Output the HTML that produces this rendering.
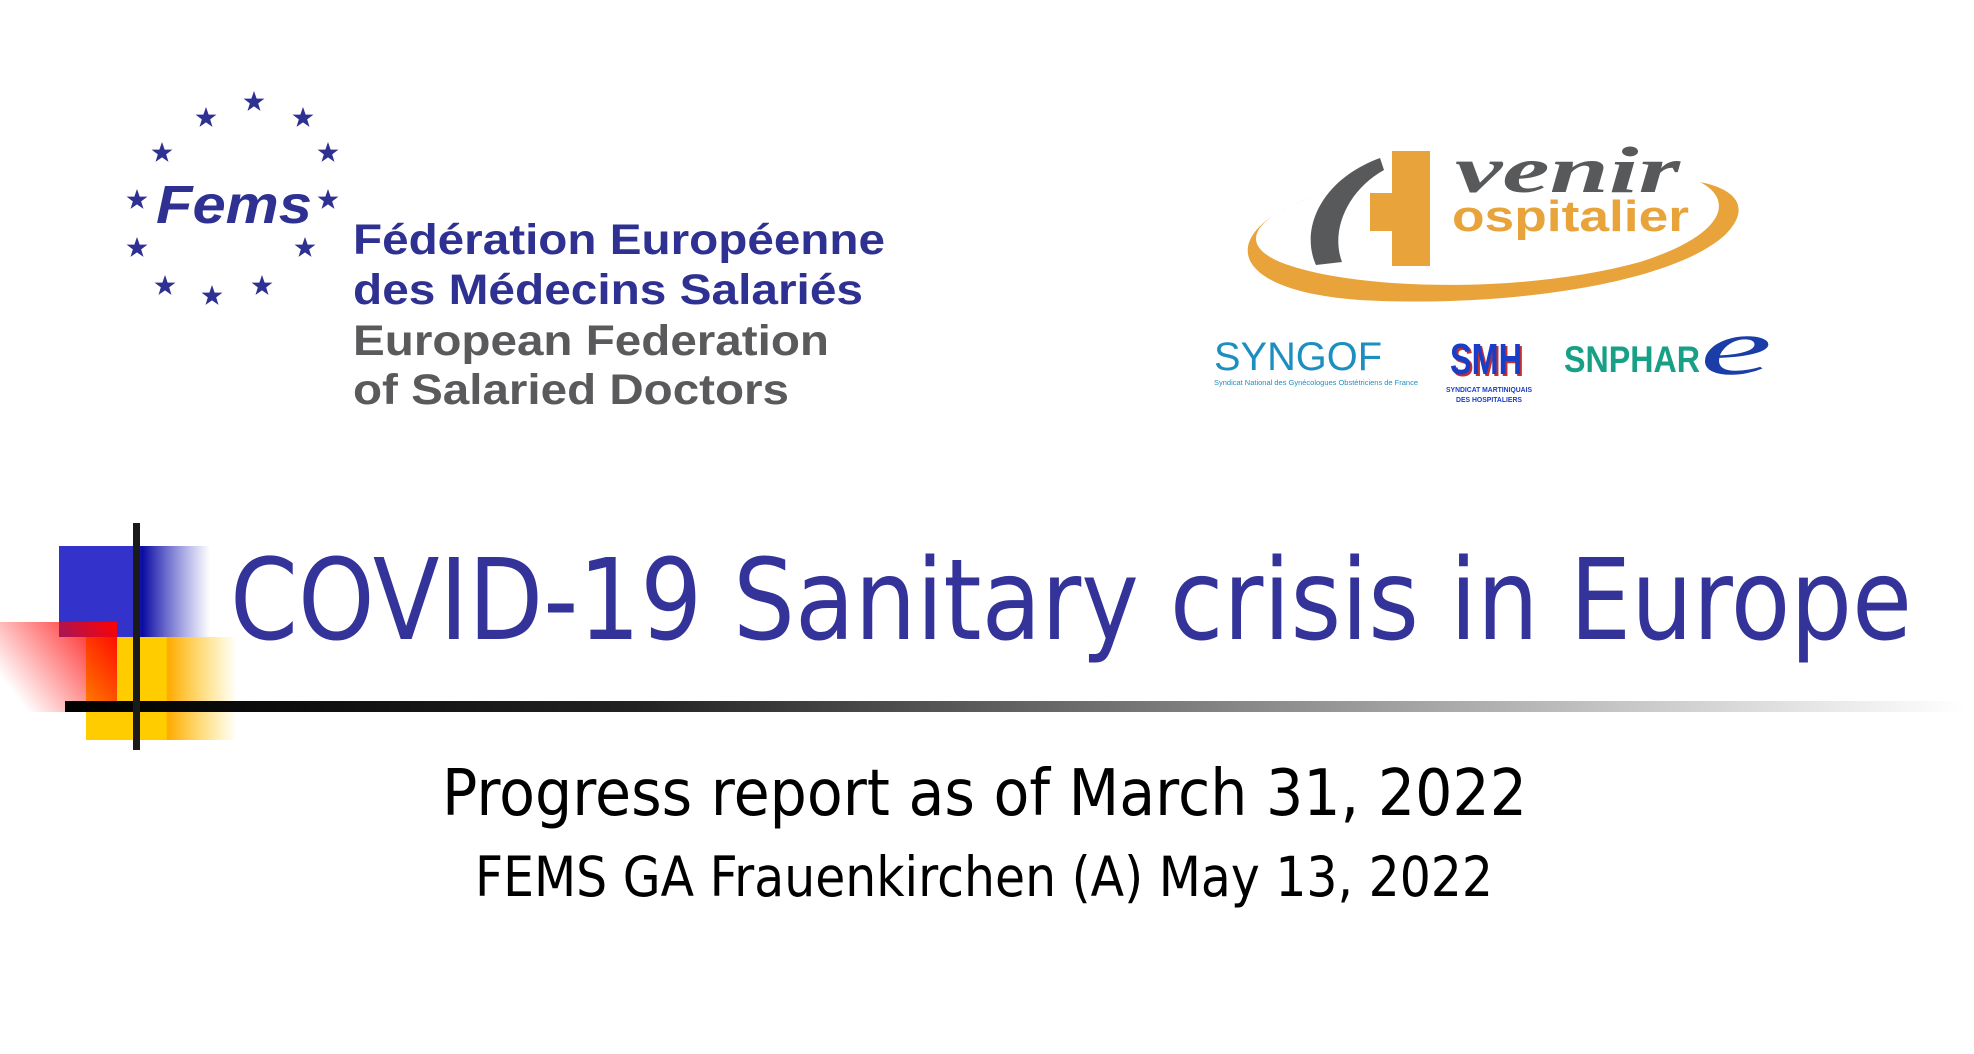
<!DOCTYPE html>
<html><head><meta charset="utf-8"><style>html,body{margin:0;padding:0;background:#fff}svg{display:block}</style></head>
<body>
<svg width="1974" height="1054" viewBox="0 0 1974 1054" xmlns="http://www.w3.org/2000/svg">
<defs>
<linearGradient id="bl" x1="0" x2="1"><stop offset="0" stop-color="#3333cc"/><stop offset="0.5" stop-color="#3333cc"/><stop offset="0.55" stop-color="#0a0aa0"/><stop offset="1" stop-color="#3333cc" stop-opacity="0"/></linearGradient>
<linearGradient id="rd" x1="1" y1="0" x2="0" y2="0.6"><stop offset="0" stop-color="#ff0000"/><stop offset="1" stop-color="#ff0000" stop-opacity="0"/></linearGradient>
<linearGradient id="yl" x1="0" x2="1"><stop offset="0" stop-color="#ffcc00"/><stop offset="0.53" stop-color="#ffcc00"/><stop offset="0.54" stop-color="#ffaa00"/><stop offset="1" stop-color="#ffcc00" stop-opacity="0"/></linearGradient>
<linearGradient id="ln" x1="0" x2="1"><stop offset="0" stop-color="#000"/><stop offset="0.3" stop-color="#222"/><stop offset="1" stop-color="#fff"/></linearGradient>
<symbol id="st" viewBox="-10 -10 20 20"><polygon fill="#2e3192" points="0,-10 2.4,-3.1 9.5,-3.1 3.8,1.2 5.9,8.1 0,4 -5.9,8.1 -3.8,1.2 -9.5,-3.1 -2.4,-3.1"/></symbol>
</defs>

<g>
<use href="#st" x="243" y="91" width="22" height="22"/>
<use href="#st" x="195" y="107" width="22" height="22"/>
<use href="#st" x="292" y="107" width="22" height="22"/>
<use href="#st" x="151" y="142" width="22" height="22"/>
<use href="#st" x="317" y="142" width="22" height="22"/>
<use href="#st" x="126" y="189" width="22" height="22"/>
<use href="#st" x="317" y="189" width="22" height="22"/>
<use href="#st" x="126" y="237" width="22" height="22"/>
<use href="#st" x="294" y="237" width="22" height="22"/>
<use href="#st" x="154" y="275" width="22" height="22"/>
<use href="#st" x="251" y="275" width="22" height="22"/>
<use href="#st" x="201" y="285" width="22" height="22"/>
<text x="156" y="223" font-family="Liberation Sans, sans-serif" font-weight="bold" font-style="italic" font-size="54" fill="#2e3192" textLength="156" lengthAdjust="spacingAndGlyphs">Fems</text>
<g font-family="Liberation Sans, sans-serif" font-weight="bold" font-size="43">
<text x="353" y="254" fill="#2e3192" textLength="532" lengthAdjust="spacingAndGlyphs">Fédération Européenne</text>
<text x="353" y="304" fill="#2e3192" textLength="510" lengthAdjust="spacingAndGlyphs">des Médecins Salariés</text>
<text x="353" y="355" fill="#5a5a5c" textLength="476" lengthAdjust="spacingAndGlyphs">European Federation</text>
<text x="353" y="404" fill="#5a5a5c" textLength="436" lengthAdjust="spacingAndGlyphs">of Salaried Doctors</text>
</g>
</g>

<g>
<g transform="translate(-20,0)">
<path d="M1330,198 C1240,230 1240,290 1380,300 C1520,308 1690,285 1745,235 C1770,210 1760,190 1720,182 C1755,200 1745,235 1660,262 C1540,295 1370,290 1300,262 C1260,245 1270,220 1330,198 Z" fill="#e8a33a"/>
<path d="M1336,265 C1320,230 1340,180 1400,158 L1404,170 C1368,190 1350,230 1362,262 Z" fill="#58595b"/>
</g>
<rect x="1392" y="151" width="38" height="115" fill="#e8a33a"/>
<rect x="1370" y="193" width="60" height="38" fill="#e8a33a"/>
<text x="1455" y="192" font-family="Liberation Serif, serif" font-style="italic" font-weight="bold" font-size="66" fill="#58595b" textLength="225" lengthAdjust="spacingAndGlyphs">venir</text>
<text x="1452" y="231" font-family="Liberation Sans, sans-serif" font-weight="bold" font-size="44" fill="#e8a33a" textLength="237" lengthAdjust="spacingAndGlyphs">ospitalier</text>
<text x="1214" y="370" font-family="Liberation Sans, sans-serif" font-size="40" fill="#1c8fc0" textLength="168" lengthAdjust="spacingAndGlyphs">SYNGOF</text>
<text x="1214" y="385" font-family="Liberation Sans, sans-serif" font-size="7" fill="#1c8fc0" textLength="204" lengthAdjust="spacingAndGlyphs">Syndicat National des Gynécologues Obstétriciens de France</text>
<text x="1452" y="376" font-family="Liberation Sans, sans-serif" font-weight="bold" font-size="44" fill="#c03030" textLength="72" lengthAdjust="spacingAndGlyphs">SMH</text>
<text x="1450" y="374" font-family="Liberation Sans, sans-serif" font-weight="bold" font-size="44" fill="#1a3dc8" textLength="72" lengthAdjust="spacingAndGlyphs">SMH</text>
<text x="1446" y="392" font-family="Liberation Sans, sans-serif" font-weight="bold" font-size="7" fill="#1a3dc8" textLength="86" lengthAdjust="spacingAndGlyphs">SYNDICAT MARTINIQUAIS</text>
<text x="1456" y="402" font-family="Liberation Sans, sans-serif" font-weight="bold" font-size="7" fill="#1a3dc8" textLength="66" lengthAdjust="spacingAndGlyphs">DES HOSPITALIERS</text>
<text x="1564" y="372" font-family="Liberation Sans, sans-serif" font-weight="bold" font-size="37" fill="#17a085" textLength="136" lengthAdjust="spacingAndGlyphs">SNPHAR</text>
<text x="1700" y="374" font-family="Liberation Serif, serif" font-style="italic" font-size="80" fill="#1a3da8" textLength="72" lengthAdjust="spacingAndGlyphs">e</text>
</g>

<rect x="59" y="546" width="151" height="91" fill="url(#bl)"/>
<rect x="86" y="637" width="151" height="103" fill="url(#yl)"/>
<rect x="0" y="622" width="117" height="90" fill="url(#rd)"/>
<rect x="65" y="701" width="1900" height="11" fill="url(#ln)"/>
<rect x="133" y="523" width="7" height="227" fill="#1a1a1a"/>

<text x="230" y="639" font-family="DejaVu Sans, sans-serif" font-size="112" fill="#333399" textLength="1682" lengthAdjust="spacingAndGlyphs">COVID-19 Sanitary crisis in Europe</text>
<text x="442" y="815" font-family="DejaVu Sans, sans-serif" font-size="64" fill="#000" textLength="1085" lengthAdjust="spacingAndGlyphs">Progress report as of March 31, 2022</text>
<text x="475" y="896" font-family="DejaVu Sans, sans-serif" font-size="55" fill="#000" textLength="1018" lengthAdjust="spacingAndGlyphs">FEMS GA Frauenkirchen (A) May 13, 2022</text>
</svg>
</body></html>
